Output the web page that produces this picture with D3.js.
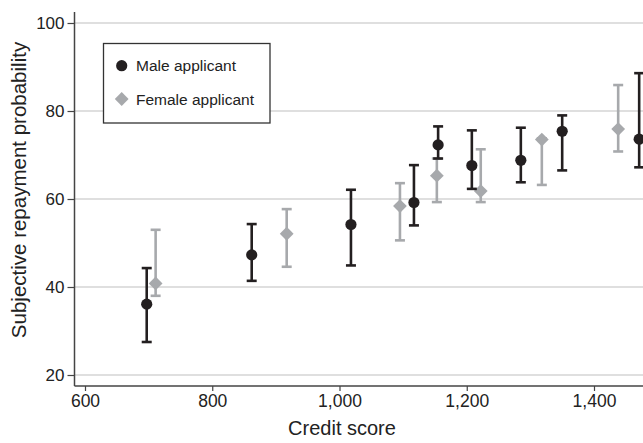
<!DOCTYPE html>
<html>
<head>
<meta charset="utf-8">
<script src="https://cdn.jsdelivr.net/npm/d3@7"></script>
<style>
  html, body { margin: 0; padding: 0; background: #fff; }
  svg { display: block; font-family: "Liberation Sans", Arial, Helvetica, sans-serif; }
</style>
</head>
<body>
<svg id="chart" width="643" height="443"></svg>
<script>
// ---- data ----
const maleScore = [697, 862, 1018, 1117, 1155, 1208, 1285, 1350, 1471];
const maleMean  = [36.1, 47.3, 54.2, 59.2, 72.3, 67.6, 68.8, 75.4, 73.6];
const maleLow   = [27.5, 41.4, 44.9, 54.0, 69.2, 62.3, 63.8, 66.5, 67.2];
const maleHigh  = [44.3, 54.3, 62.1, 67.7, 76.5, 75.6, 76.2, 79.0, 88.6];

const femaleScore = [711, 917, 1095, 1153, 1222, 1318, 1438];
const femaleMean  = [40.8, 52.1, 58.4, 65.3, 61.8, 73.5, 75.9];
const femaleLow   = [38.0, 44.6, 50.6, 59.3, 59.3, 63.2, 70.8];
const femaleHigh  = [53.0, 57.7, 63.6, 69.2, 71.3, 73.8, 85.9];

const xTicks = [600, 800, 1000, 1200, 1400];
const yTicks = [20, 40, 60, 80, 100];
const legendLabels = ["Male applicant", "Female applicant"];
const xTitle = "Credit score";
const yTitle = "Subjective repayment probability";

// ---- setup ----
const svg = d3.select("#chart");
const W = 643, H = 443;
const maleColor = "#231f20", femaleColor = "#a7a9ac";
const diamondSize = 95;

const x = d3.scaleLinear().domain([600, 1400]).range([85, 594]);
const y = d3.scaleLinear().domain([20, 100]).range([375, 23]);
const axisX = 74.5, axisY = 386;

// gridlines
svg.append("g").selectAll("line").data(yTicks).join("line")
  .attr("x1", axisX).attr("x2", W)
  .attr("y1", d => y(d)).attr("y2", d => y(d))
  .attr("stroke", "#d4d4d4").attr("stroke-width", 1.4);

// y axis
const yAxis = d3.axisLeft(y).tickValues(yTicks).tickSize(7).tickPadding(3).tickFormat(d3.format("d"));
const gy = svg.append("g").attr("transform", `translate(${axisX},0)`).call(yAxis);
gy.select(".domain").remove();
gy.selectAll(".tick line").attr("stroke", "#444").attr("stroke-width", 1.2);
gy.selectAll(".tick text").attr("fill", "#222").attr("font-size", 17).attr("font-family", "Liberation Sans, Arial, sans-serif");
svg.append("line").attr("x1", axisX).attr("x2", axisX).attr("y1", 12).attr("y2", axisY)
  .attr("stroke", "#444").attr("stroke-width", 1.5);

// x axis
const xAxis = d3.axisBottom(x).tickValues(xTicks).tickSize(5).tickPadding(4).tickFormat(d3.format(","));
const gx = svg.append("g").attr("transform", `translate(0,${axisY})`).call(xAxis);
gx.select(".domain").remove();
gx.selectAll(".tick line").attr("stroke", "#444").attr("stroke-width", 1.2);
gx.selectAll(".tick text").attr("fill", "#222").attr("font-size", 17.5).attr("font-family", "Liberation Sans, Arial, sans-serif");
svg.append("line").attr("x1", axisX).attr("x2", W).attr("y1", axisY).attr("y2", axisY)
  .attr("stroke", "#444").attr("stroke-width", 1.5);

// titles
svg.append("text").attr("x", 342).attr("y", 435).attr("text-anchor", "middle")
  .attr("font-size", 20).attr("fill", "#222").text(xTitle);
svg.append("text").attr("transform", "translate(26,190) rotate(-90)").attr("text-anchor", "middle")
  .attr("font-size", 20.5).attr("fill", "#222").text(yTitle);

// error bars helper
function drawSeries(scores, means, lows, highs, color, shape) {
  const data = scores.map((s, i) => ({ s, m: means[i], lo: lows[i], hi: highs[i] }));
  const g = svg.append("g");
  const capW = 10;
  g.selectAll(".bar").data(data).join("line")
    .attr("x1", d => x(d.s)).attr("x2", d => x(d.s))
    .attr("y1", d => y(d.lo)).attr("y2", d => y(d.hi))
    .attr("stroke", color).attr("stroke-width", 2.6);
  g.selectAll(".capTop").data(data).join("line")
    .attr("x1", d => x(d.s) - capW / 2).attr("x2", d => x(d.s) + capW / 2)
    .attr("y1", d => y(d.hi)).attr("y2", d => y(d.hi))
    .attr("stroke", color).attr("stroke-width", 2.6);
  g.selectAll(".capBot").data(data).join("line")
    .attr("x1", d => x(d.s) - capW / 2).attr("x2", d => x(d.s) + capW / 2)
    .attr("y1", d => y(d.lo)).attr("y2", d => y(d.lo))
    .attr("stroke", color).attr("stroke-width", 2.6);
  if (shape === "circle") {
    g.selectAll("circle").data(data).join("circle")
      .attr("cx", d => x(d.s)).attr("cy", d => y(d.m)).attr("r", 5.6).attr("fill", color);
  } else {
    g.selectAll("path").data(data).join("path")
      .attr("d", d3.symbol().type(d3.symbolSquare).size(diamondSize))
      .attr("transform", d => `translate(${x(d.s)},${y(d.m)}) rotate(45)`)
      .attr("fill", color);
  }
}
drawSeries(femaleScore, femaleMean, femaleLow, femaleHigh, femaleColor, "diamond");
drawSeries(maleScore, maleMean, maleLow, maleHigh, maleColor, "circle");

// legend
const lg = svg.append("g");
lg.append("rect").attr("x", 103.5).attr("y", 43.5).attr("width", 166.5).attr("height", 79.5)
  .attr("fill", "#fff").attr("stroke", "#333").attr("stroke-width", 1.3);
lg.append("circle").attr("cx", 121.7).attr("cy", 65.7).attr("r", 5.6).attr("fill", maleColor);
lg.append("path").attr("d", d3.symbol().type(d3.symbolSquare).size(diamondSize)())
  .attr("transform", "translate(121.7,99) rotate(45)").attr("fill", femaleColor);
lg.selectAll("text").data(legendLabels).join("text")
  .attr("x", 136).attr("y", (d, i) => i === 0 ? 70.5 : 104.5)
  .attr("font-size", 15.5).attr("fill", "#222").text(d => d);
</script>
</body>
</html>
